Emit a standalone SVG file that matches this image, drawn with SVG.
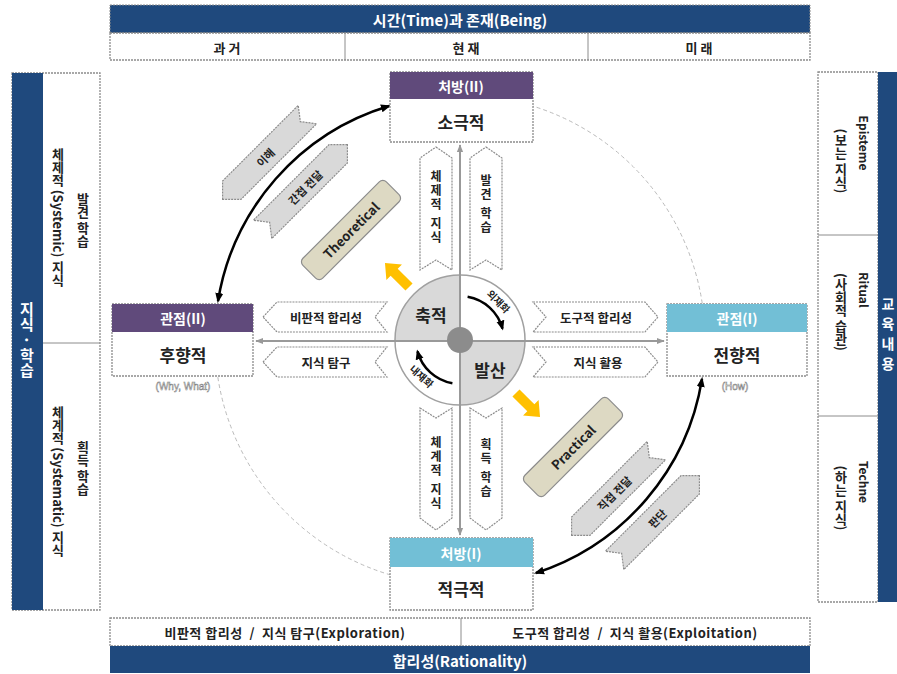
<svg xmlns="http://www.w3.org/2000/svg" width="897" height="674" viewBox="0 0 897 674">
<defs>
<style>
.t{font-family:"Noto Sans CJK KR","Noto Sans",sans-serif;font-weight:bold;fill:#222;}
.w{fill:#fff;}
.c{text-anchor:middle;dominant-baseline:central;}
.v{writing-mode:vertical-rl;text-anchor:middle;}
.bd{fill:#fff;stroke:#8c8c8c;stroke-width:1.3;stroke-dasharray:2 1;}
.navy{fill:#1f497d;}
.chev{fill:#fff;stroke:#8c8c8c;stroke-width:1.2;stroke-dasharray:2 1;}
.rib{fill:#d9d9d9;stroke:#8c8c8c;stroke-width:1.2;stroke-dasharray:2 1;}
.tan{fill:#ddd9c3;stroke:#8c8c8c;stroke-width:1.2;}
.yel{fill:#ffc000;}
.axis{stroke:#999;stroke-width:2;fill:none;}
.arc{stroke:#000;stroke-width:2.5;fill:none;}
.note{font-family:"Liberation Sans",sans-serif;font-size:10px;fill:#fff;stroke:#777;stroke-width:0.5;text-anchor:middle;}
</style>
<marker id="ah" viewBox="0 0 10 10" refX="8" refY="5" markerWidth="10" markerHeight="10" markerUnits="userSpaceOnUse" orient="auto-start-reverse"><path d="M0,1 L10,5 L0,9 Z" fill="#000"/></marker>
<marker id="ag" viewBox="0 0 10 10" refX="9" refY="5" markerWidth="8" markerHeight="8" markerUnits="userSpaceOnUse" orient="auto-start-reverse"><path d="M0,1 L10,5 L0,9 Z" fill="#999"/></marker>
<polygon id="ribL" points="-60,0 -47,-13 60,-13 50,0 60,13 -47,13"/>
<polygon id="ribR" points="60,0 47,-13 -60,-13 -50,0 -60,13 47,13"/>
<polygon id="yarrow" points="-17,-5 4,-5 4,-11 17,0 4,11 4,5 -17,5"/>
</defs>
<rect width="897" height="674" fill="#fff"/>

<!-- top bar -->
<g id="time-bar">
<rect x="110" y="5" width="700" height="28" class="navy" stroke="#8c8c8c" stroke-dasharray="2 1"/>
<text x="460" y="19" class="t w c" font-size="15">시간(Time)과 존재(Being)</text>
<rect x="110" y="33" width="700" height="27" class="bd"/>
<line x1="345" y1="33" x2="345" y2="60" stroke="#8c8c8c"/>
<line x1="588" y1="33" x2="588" y2="60" stroke="#8c8c8c"/>
<text x="227" y="47" class="t c" font-size="13">과 거</text>
<text x="466" y="47" class="t c" font-size="13">현 재</text>
<text x="699" y="47" class="t c" font-size="13">미 래</text>
</g>

<!-- bottom bar -->
<g id="rationality-bar">
<rect x="110" y="618" width="700" height="28" class="bd"/>
<line x1="461" y1="618" x2="461" y2="646" stroke="#8c8c8c"/>
<text x="285" y="632" class="t c" font-size="13" letter-spacing="0.5">비판적 합리성 &#160;/ &#160;지식 탐구(Exploration)</text>
<text x="635" y="632" class="t c" font-size="13" letter-spacing="0.5">도구적 합리성 &#160;/ &#160;지식 활용(Exploitation)</text>
<rect x="110" y="646" width="700" height="27" class="navy"/>
<text x="460" y="660" class="t w c" font-size="15">합리성(Rationality)</text>
</g>

<!-- left panel -->
<g id="knowledge-panel">
<rect x="12" y="73" width="88" height="537" class="bd"/>
<rect x="12" y="73" width="31" height="537" class="navy"/>
<line x1="43" y1="343" x2="100" y2="343" stroke="#8c8c8c"/>
<text x="27" y="340" class="t w v" font-size="15">지식 · 학습</text>
<text x="58" y="217" class="t v" font-size="13">체제적 (Systemic) 지식</text>
<text x="83" y="220" class="t v" font-size="13">발견 학습</text>
<text x="58" y="481" class="t v" font-size="13">체계적 (Systematic) 지식</text>
<text x="83" y="468" class="t v" font-size="13">획득 학습</text>
</g>

<!-- right panel -->
<g id="content-panel">
<rect x="818" y="72" width="60" height="530" class="bd"/>
<rect x="878" y="72" width="30" height="530" class="navy"/>
<line x1="818" y1="235" x2="878" y2="235" stroke="#8c8c8c"/>
<line x1="818" y1="416" x2="878" y2="416" stroke="#8c8c8c"/>
<text x="864" y="143" class="t v" font-size="12">Episteme</text>
<text x="841" y="161" class="t v" font-size="13">(보는 지식)</text>
<text x="864" y="290" class="t v" font-size="12">Ritual</text>
<text x="841" y="312" class="t v" font-size="13">(사회적 습관)</text>
<text x="864" y="482" class="t v" font-size="12">Techne</text>
<text x="841" y="498" class="t v" font-size="13">(하는 지식)</text>
<text x="888" y="337" class="t w v" font-size="14" letter-spacing="6">교육내용</text>
</g>

<!-- connectors -->
<g id="connectors">
<circle cx="460" cy="340" r="245" fill="none" stroke="#bbb" stroke-width="1" stroke-dasharray="4 3"/>
<path class="arc" d="M218,301 A245,245 0 0 1 389,106" marker-start="url(#ah)" marker-end="url(#ah)"/>
<path class="arc" d="M702,379 A245,245 0 0 1 536,573" marker-start="url(#ah)" marker-end="url(#ah)"/>
</g>

<!-- center circle -->
<g id="center">
<circle cx="460" cy="340" r="65" fill="#fff"/>
<path d="M460,340 L395,340 A65,65 0 0 1 460,275 Z" fill="#d9d9d9"/>
<path d="M460,340 L525,340 A65,65 0 0 1 460,405 Z" fill="#d9d9d9"/>
<circle cx="460" cy="340" r="65" fill="none" stroke="#a0a0a0" stroke-width="1.5"/>
</g>

<g id="axes">
<line class="axis" x1="460" y1="145" x2="460" y2="535" marker-start="url(#ag)" marker-end="url(#ag)"/>
<line class="axis" x1="256" y1="341" x2="664" y2="341" marker-start="url(#ag)" marker-end="url(#ag)"/>
</g>

<g id="center-labels">
<circle cx="460" cy="340" r="13" fill="#8c8c8c"/>
<text x="431" y="314" class="t c" font-size="17">축적</text>
<text x="490" y="369" class="t c" font-size="17">발산</text>
<path class="arc" d="M467.6,296.7 A44,44 0 0 1 502.5,328.6" marker-end="url(#ah)"/>
<path class="arc" d="M452.4,383.3 A44,44 0 0 1 417.5,351.4" marker-end="url(#ah)"/>
<text transform="translate(499,301) rotate(45)" class="t c" font-size="10" fill="#444">외재화</text>
<text transform="translate(422,376) rotate(42)" class="t c" font-size="10" fill="#444">내재화</text>
</g>

<!-- boxes -->
<g id="box-top">
<rect x="390" y="72" width="143" height="70" class="bd"/>
<rect x="390" y="72" width="143" height="27" fill="#604a7b"/>
<text x="461" y="86" class="t w c" font-size="14">처방(II)</text>
<text x="461" y="121" class="t c" font-size="17">소극적</text>
</g>
<g id="box-bottom">
<rect x="390" y="538" width="143" height="72" class="bd"/>
<rect x="390" y="538" width="143" height="29" fill="#72bfd6"/>
<text x="461" y="553" class="t w c" font-size="14">처방(I)</text>
<text x="461" y="588" class="t c" font-size="17">적극적</text>
</g>
<g id="box-left">
<rect x="112" y="304" width="141" height="72" class="bd"/>
<rect x="112" y="304" width="141" height="28" fill="#604a7b"/>
<text x="183" y="318" class="t w c" font-size="14">관점(II)</text>
<text x="183" y="354" class="t c" font-size="17">후향적</text>
<text x="183" y="390" class="note">(Why, What)</text>
</g>
<g id="box-right">
<rect x="667" y="304" width="140" height="72" class="bd"/>
<rect x="667" y="304" width="140" height="28" fill="#72bfd6"/>
<text x="737" y="318" class="t w c" font-size="14">관점(I)</text>
<text x="737" y="354" class="t c" font-size="17">전향적</text>
<text x="735" y="390" class="note">(How)</text>
</g>

<!-- axis chevrons -->
<g id="chev-up-1"><polygon class="chev" points="436,147 452,158 452,270 436,260 420,270 420,158"/><text x="436" y="208" class="t v" font-size="12" letter-spacing="2">체제적 지식</text></g>
<g id="chev-up-2"><polygon class="chev" points="486,147 502,158 502,270 486,260 470,270 470,158"/><text x="486" y="205" class="t v" font-size="12" letter-spacing="2">발견 학습</text></g>
<g id="chev-down-1"><polygon class="chev" points="420,408 436,418 452,408 452,518 436,530 420,518"/><text x="436" y="474" class="t v" font-size="12" letter-spacing="2">체계적 지식</text></g>
<g id="chev-down-2"><polygon class="chev" points="470,408 486,418 502,408 502,518 486,530 470,518"/><text x="486" y="469" class="t v" font-size="12" letter-spacing="2">획득 학습</text></g>
<g id="chev-left-1"><polygon class="chev" points="263,317 277,302 387,302 375,317 387,332 277,332"/><text x="326" y="317" class="t c" font-size="12.5">비판적 합리성</text></g>
<g id="chev-left-2"><polygon class="chev" points="263,362 277,347 387,347 375,362 387,377 277,377"/><text x="326" y="362" class="t c" font-size="12.5">지식 탐구</text></g>
<g id="chev-right-1"><polygon class="chev" points="533,302 645,302 658,317 645,332 533,332 546,317"/><text x="596" y="317" class="t c" font-size="12.5">도구적 합리성</text></g>
<g id="chev-right-2"><polygon class="chev" points="533,347 645,347 658,362 645,377 533,377 546,362"/><text x="598" y="362" class="t c" font-size="12.5">지식 활용</text></g>

<!-- ribbons -->
<g id="rib-ihae" transform="translate(265,157) rotate(-45)"><use href="#ribL" class="rib"/><text x="0" y="0" class="t c" font-size="11">이해</text></g>
<g id="rib-indirect" transform="translate(305,187) rotate(-45)"><use href="#ribR" class="rib"/><text x="0" y="0" class="t c" font-size="11">간접 전달</text></g>
<g id="rib-direct" transform="translate(614,493) rotate(-45)"><use href="#ribL" class="rib"/><text x="0" y="0" class="t c" font-size="11">직접 전달</text></g>
<g id="rib-judge" transform="translate(657,518) rotate(-45)"><use href="#ribR" class="rib"/><text x="0" y="0" class="t c" font-size="11">판단</text></g>

<!-- tan boxes -->
<g id="theoretical" transform="translate(351,230) rotate(-45)"><rect x="-59" y="-14" width="118" height="28" rx="5" class="tan"/><text x="0" y="0" class="t c" font-size="13">Theoretical</text></g>
<g id="practical" transform="translate(573,447) rotate(-45)"><rect x="-59" y="-14" width="118" height="28" rx="5" class="tan"/><text x="0" y="0" class="t c" font-size="13">Practical</text></g>

<!-- yellow arrows -->
<g id="yellow-1" transform="translate(397,275) rotate(-135)"><use href="#yarrow" class="yel"/></g>
<g id="yellow-2" transform="translate(528,405) rotate(45)"><use href="#yarrow" class="yel"/></g>
</svg>
